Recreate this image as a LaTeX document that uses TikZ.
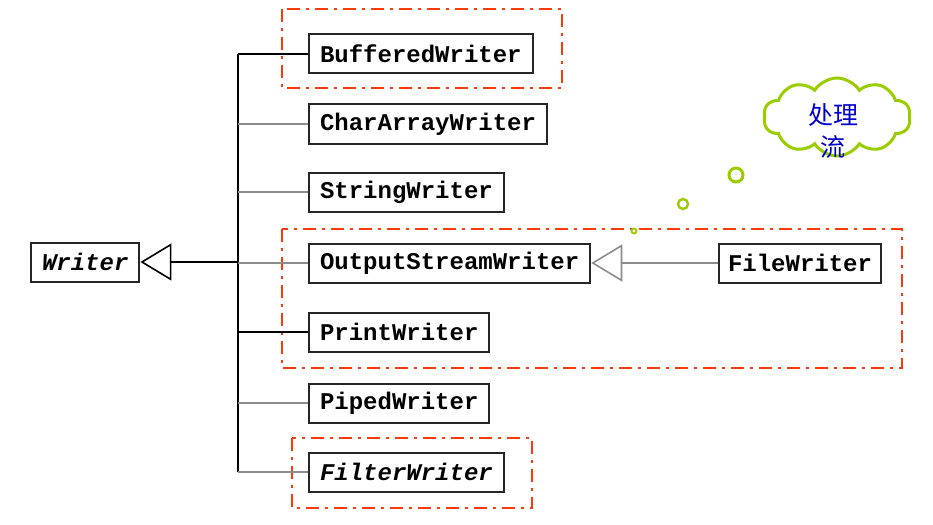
\documentclass[tikz,border=0pt]{standalone}
\usepackage{fontspec}
\setmonofont{Liberation Mono}
\newfontfamily\cjk{Noto Sans CJK SC}
\usetikzlibrary{shapes.symbols,arrows.meta}
\definecolor{redline}{HTML}{FF3A0A}
\definecolor{cloudgreen}{HTML}{9ACD00}
\definecolor{textblue}{HTML}{0000D0}
\definecolor{linkgray}{HTML}{8C8C8C}
\tikzset{
  cls/.style={draw=black!85, line width=2pt, fill=white, anchor=west, minimum height=39pt,
    inner xsep=11pt, inner ysep=0pt, font=\fontsize{24}{26}\selectfont\ttfamily\bfseries},
  grp/.style={draw=redline, line width=2.6pt, dash pattern=on 13pt off 6pt on 3pt off 6pt},
  trunk/.style={draw=black, line width=1.8pt},
  link/.style={draw=linkgray, line width=2.2pt},
  inh/.style={-{Triangle[open, length=31pt, width=37pt, line width=1.6pt]}},
  bubble/.style={draw=cloudgreen, line width=3pt, fill=white}
}
\begin{document}
\begin{tikzpicture}[x=1pt, y=-1pt]
\useasboundingbox (0,0) rectangle (933,524);
% groups
\draw[grp] (282,9) rectangle (562,88);
\draw[grp] (282,229) rectangle (902,368);
\draw[grp] (292,438) rectangle (532,508);
% nodes
\node[cls] (writer) at (30,262) {\itshape Writer};
\node[cls] (bw) at (308,54) {BufferedWriter};
\node[cls] (caw) at (308,124) {CharArrayWriter};
\node[cls] (sw) at (308,192) {StringWriter};
\node[cls] (osw) at (308,263) {OutputStreamWriter};
\node[cls] (pw) at (308,332) {PrintWriter};
\node[cls] (piw) at (308,403) {PipedWriter};
\node[cls] (fiw) at (308,472) {\itshape FilterWriter};
\node[cls, inner xsep=9pt] (flw) at (718,263) {FileWriter};
% trunk
\coordinate (ttop) at (238,54);
\coordinate (tbot) at (238,472);
\coordinate (tmid) at (238,262);
\draw[trunk] (ttop) -- (tbot);
\draw[trunk] (ttop) -- (bw.west);
\draw[link] (ttop |- caw.west) -- (caw.west);
\draw[link] (ttop |- sw.west) -- (sw.west);
\draw[link] (ttop |- osw.west) -- (osw.west);
\draw[trunk] (ttop |- pw.west) -- (pw.west);
\draw[link] (ttop |- piw.west) -- (piw.west);
\draw[link] (tbot) -- (fiw.west);
\draw[trunk, inh] (tmid) -- (writer.east);
\draw[link, inh] (flw.west) -- (osw.east);
% cloud
\node[cloud, bubble, cloud puffs=10, cloud puff arc=115, aspect=2, inner sep=0pt,
  minimum width=147pt, minimum height=78pt] (cloud) at (837,117) {};
\node[align=center, text=textblue, font=\fontsize{25}{32}\selectfont\cjk] (cloudtext) at (833,131) {处理\\流};
\node[circle, bubble, minimum size=14pt, inner sep=0pt] (b1) at (736,175) {};
\node[circle, bubble, minimum size=10pt, inner sep=0pt, line width=2.4pt] (b2) at (683,204) {};
\node[circle, bubble, minimum size=5pt, inner sep=0pt, line width=1.8pt] (b3) at (634,231) {};
\end{tikzpicture}
\end{document}
